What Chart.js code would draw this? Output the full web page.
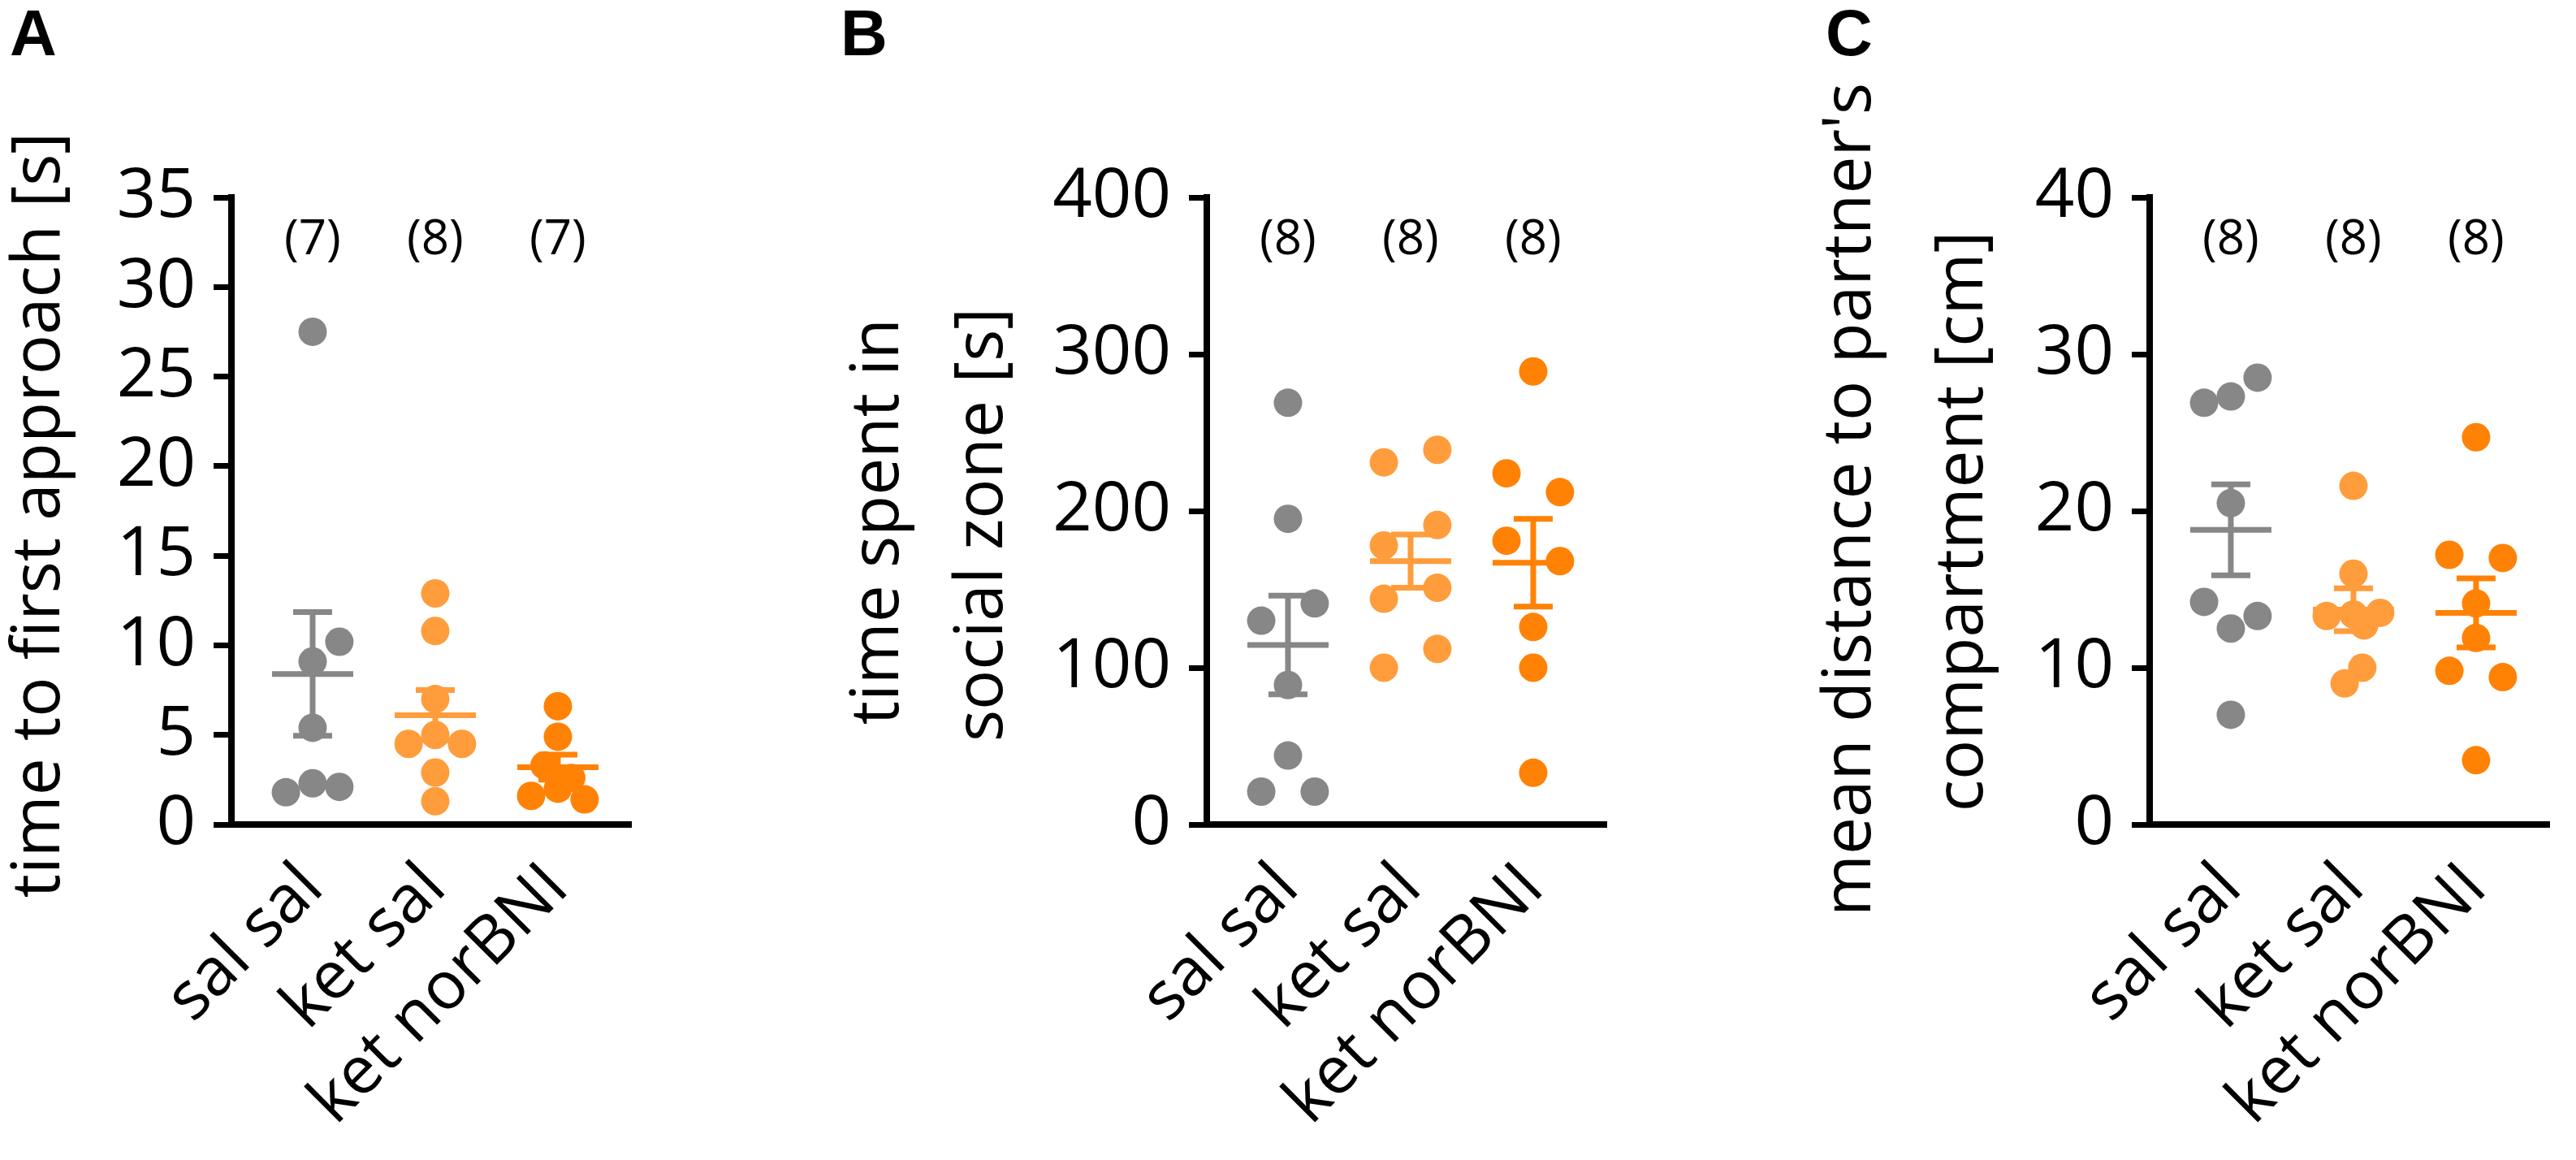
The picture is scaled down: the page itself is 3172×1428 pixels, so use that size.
<!DOCTYPE html>
<html>
<head>
<meta charset="utf-8">
<script src="https://cdn.jsdelivr.net/npm/chart.js@4.4.1/dist/chart.umd.min.js"></script>
<style>
  body { margin: 0; background: #fff; width: 3172px; height: 1428px; overflow: hidden; position: relative; }
  canvas { position: absolute; top: 0; }
</style>
</head>
<body>
<canvas id="chartA" width="1000" height="1428" style="left:0px"></canvas>
<canvas id="chartB" width="1150" height="1428" style="left:1000px"></canvas>
<canvas id="chartC" width="1022" height="1428" style="left:2150px"></canvas>
<script>
// ---- data ----
const groups = ['sal sal', 'ket sal', 'ket norBNI'];

// A: time to first approach [s]
const approachSalSal = [27.5, 10.2, 9.1, 5.4, 2.3, 1.8, 2.1];
const approachKetSal = [12.9, 10.8, 7.0, 5.0, 4.5, 4.5, 2.9, 1.3];
const approachKetNor = [6.6, 4.9, 3.3, 2.6, 2.0, 1.6, 1.4];
const approachMean = [8.4, 6.1, 3.2];
const approachSem = [3.45, 1.4, 0.7];
const approachN = ['(7)', '(8)', '(7)'];
const approachTicks = [0, 5, 10, 15, 20, 25, 30, 35];

// B: time spent in social zone [s]
const socialSalSal = [269, 195, 141, 130, 89, 44, 21, 21];
const socialKetSal = [239, 231, 191, 178, 151, 144, 112, 100];
const socialKetNor = [289, 224, 212, 181, 168, 126, 100, 33];
const socialMean = [114.5, 168, 167];
const socialSem = [31.5, 17, 28];
const socialN = ['(8)', '(8)', '(8)'];
const socialTicks = [0, 100, 200, 300, 400];

// C: mean distance to partner's compartment [cm]
const distSalSal = [28.5, 27.3, 26.9, 20.5, 14.2, 13.3, 12.5, 7.0];
const distKetSal = [21.6, 16.0, 13.5, 13.4, 13.3, 12.7, 10.0, 9.0];
const distKetNor = [24.7, 17.2, 17.0, 14.1, 11.9, 9.8, 9.4, 4.1];
const distMean = [18.8, 13.7, 13.5];
const distSem = [2.9, 1.37, 2.2];
const distN = ['(8)', '(8)', '(8)'];
const distTicks = [0, 10, 20, 30, 40];

// beeswarm column of each dot (-1 left, 0 centre, 1 right), as seen in the figure
const approachCols = [[0, 1, 0, 0, 0, -1, 1], [0, 0, 0, 0, -1, 1, 0, 0], [0, 0, -0.5, 0.5, 0, -1, 1]];
const socialCols = [[0, 0, 1, -1, 0, 0, -1, 1], [1, -1, 1, -1, 1, -1, 1, -1], [0, -1, 1, -1, 1, 0, 0, 0]];
const distCols = [[1, 0, -1, 0, -1, 1, 0, 0], [0, 0, 1, 0, -1, 0.4, 0.33, -0.33], [0, -1, 1, 0, 0, -1, 1, 0]];

// ---- styling ----
const colors = ['#878787', '#ff9d3c', '#ff8205'];
const SWARM = 0.218;          // column spacing in category units
const X_MIN = 0.338, X_MAX = 3.6;
const PX_PER_CAT = 151;
const PLOT_TOP = 243, PLOT_BOTTOM = 1015, H = 1428;
const narrow = '"Liberation Sans Narrow", "Open Sans", sans-serif';
const titleFont = '"Open Sans", sans-serif';

const decoPlugin = {
  id: 'deco',
  afterDatasetsDraw(chart, args, opts) {
    const { ctx, scales: { x, y } } = chart;
    ctx.save();
    ctx.lineWidth = 7;
    ctx.lineCap = 'butt';
    opts.means.forEach((m, i) => {
      const cx = x.getPixelForValue(i + 1);
      const yM = y.getPixelForValue(m);
      const yT = y.getPixelForValue(m + opts.sems[i]);
      const yB = y.getPixelForValue(m - opts.sems[i]);
      ctx.strokeStyle = colors[i];
      ctx.beginPath();
      ctx.moveTo(cx - 50, yM); ctx.lineTo(cx + 50, yM);
      ctx.moveTo(cx, yT); ctx.lineTo(cx, yB);
      ctx.moveTo(cx - 24, yT); ctx.lineTo(cx + 24, yT);
      ctx.moveTo(cx - 24, yB); ctx.lineTo(cx + 24, yB);
      ctx.stroke();
    });
    ctx.restore();
  },
  afterDraw(chart, args, opts) {
    const { ctx, chartArea, scales: { x } } = chart;
    ctx.save();
    ctx.fillStyle = '#000';
    // panel letter
    ctx.font = 'bold 80px "Liberation Sans", Arial, sans-serif';
    ctx.textAlign = 'left';
    ctx.textBaseline = 'alphabetic';
    ctx.fillText(opts.letter, opts.letterX, 68);
    // y axis title, rotated
    ctx.font = '82px ' + titleFont;
    ctx.textAlign = 'center';
    opts.title.forEach((line, i) => {
      ctx.save();
      ctx.translate(opts.titleX[i], opts.titleY[i]);
      ctx.rotate(-Math.PI / 2);
      ctx.fillText(line, 0, 0);
      ctx.restore();
    });
    // group sizes
    ctx.font = '60px ' + narrow;
    opts.n.forEach((t, i) => {
      ctx.fillText(t, x.getPixelForValue(i + 1), chartArea.top + 70);
    });
    ctx.restore();
  }
};

function makeChart(id, cfg) {
  const canvas = document.getElementById(id);
  const padRight = canvas.width - cfg.axisLeft - PX_PER_CAT * (X_MAX - X_MIN);
  const datasets = cfg.series.map((vals, g) => ({
    data: vals.map((v, i) => ({ x: g + 1 + cfg.cols[g][i] * SWARM, y: v })),
    backgroundColor: colors[g],
    pointBackgroundColor: colors[g],
    pointBorderWidth: 0,
    pointRadius: 17.5,
    clip: false
  }));
  return new Chart(canvas, {
    type: 'scatter',
    data: { datasets },
    plugins: [decoPlugin],
    options: {
      responsive: false,
      animation: false,
      events: [],
      layout: { padding: { top: PLOT_TOP, left: 0, right: padRight, bottom: 0 } },
      plugins: {
        legend: { display: false },
        tooltip: { enabled: false },
        deco: {
          letter: cfg.letter, letterX: cfg.letterX,
          title: cfg.title, titleX: cfg.titleX, titleY: cfg.titleY,
          n: cfg.n, means: cfg.means, sems: cfg.sems
        }
      },
      scales: {
        x: {
          type: 'linear', min: X_MIN, max: X_MAX,
          afterBuildTicks: s => { s.ticks = groups.map((g, i) => ({ value: i + 1 })); },
          ticks: {
            autoSkip: false, minRotation: 45, maxRotation: 45,
            callback: (v, i) => groups[i],
            font: { family: titleFont, size: 82 }, color: '#000', padding: 30
          },
          grid: { display: false, drawTicks: false },
          border: { display: true, width: 8, color: '#000' },
          afterFit: s => { s.height = H - PLOT_BOTTOM; }
        },
        y: {
          min: 0, max: cfg.ticks[cfg.ticks.length - 1],
          afterBuildTicks: s => { s.ticks = cfg.ticks.map(v => ({ value: v })); },
          ticks: { autoSkip: false, font: { family: narrow, size: 85 }, color: '#000', padding: 22 },
          grid: { drawOnChartArea: false, drawTicks: true, tickLength: 22, lineWidth: 7, color: '#000' },
          border: { display: true, width: 8, color: '#000' },
          afterFit: s => { s.width = cfg.axisLeft; }
        }
      }
    }
  });
}

makeChart('chartA', {
  letter: 'A', letterX: 12, axisLeft: 285,
  title: ['time to first approach [s]'], titleX: [73], titleY: [634],
  series: [approachSalSal, approachKetSal, approachKetNor], cols: approachCols,
  means: approachMean, sems: approachSem, n: approachN, ticks: approachTicks
});

makeChart('chartB', {
  letter: 'B', letterX: 35, axisLeft: 486,
  title: ['time spent in', 'social zone [s]'], titleX: [106, 234], titleY: [642, 646],
  series: [socialSalSal, socialKetSal, socialKetNor], cols: socialCols,
  means: socialMean, sems: socialSem, n: socialN, ticks: socialTicks
});

makeChart('chartC', {
  letter: 'C', letterX: 98, axisLeft: 497,
  title: ["mean distance to partner's", 'compartment [cm]'], titleX: [153, 291], titleY: [615, 642],
  series: [distSalSal, distKetSal, distKetNor], cols: distCols,
  means: distMean, sems: distSem, n: distN, ticks: distTicks
});
</script>
</body>
</html>
